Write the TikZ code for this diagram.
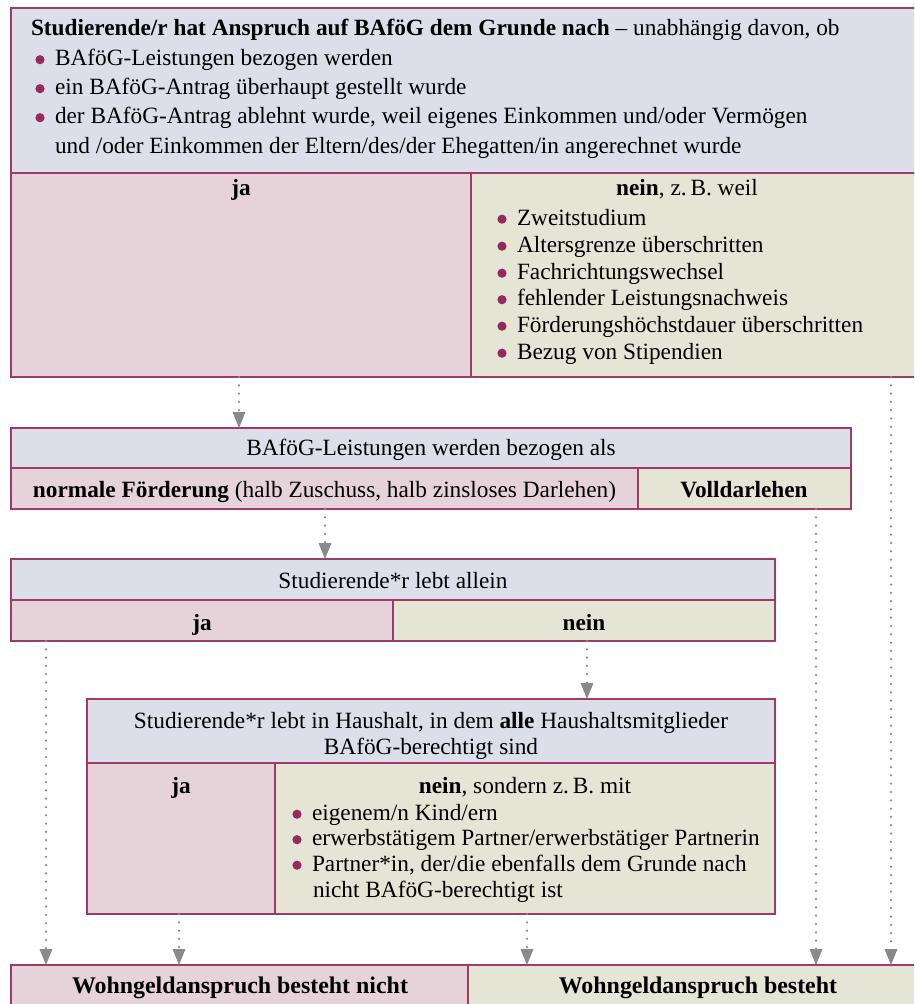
\documentclass[tikz,border=0pt]{standalone}
\usepackage{fontspec}
\setmainfont{Liberation Serif}
\usetikzlibrary{arrows.meta}
\definecolor{hdr}{HTML}{DCDFEA}
\definecolor{yes}{HTML}{E6D3DA}
\definecolor{nocol}{HTML}{E5E5D6}
\definecolor{brd}{HTML}{9E3A6A}
\definecolor{bul}{HTML}{962A5C}
\definecolor{arr}{HTML}{8A8A8A}
\newcommand{\bitem}[4]{%
  \fill[bul] (#1-15,#2-5.8) circle (4.6);
  \node[txt,anchor=base west] (#3) at (#1,#2) {#4};}
\tikzset{
  cell/.style={draw=brd,line width=1.6pt,anchor=north west,inner sep=0pt,outer sep=0pt},
  txt/.style={inner sep=0pt,outer sep=0pt,font=\fontsize{23.3}{29.3}\selectfont},
  big/.style={inner sep=0pt,outer sep=0pt,font=\fontsize{23.9}{29.3}\selectfont\bfseries},
  flow/.style={draw=arr,line width=2.5pt,line cap=round,dash pattern=on 0pt off 8.3pt,
    -{Triangle[width=13pt,length=16pt,fill=arr,color=arr,line width=0pt]}}
}
\begin{document}
\begin{tikzpicture}[x=1pt,y=-1pt]
\useasboundingbox (0,0) rectangle (914,1004);
\clip (0,0) rectangle (914,1004);
% boxes
\node[cell,fill=hdr,minimum width=909pt,minimum height=165pt] (th) at (11,8) {};
\node[cell,fill=yes,minimum width=460pt,minimum height=204pt] (tja) at (11,173) {};
\node[cell,fill=nocol,minimum width=449pt,minimum height=204pt] (tnein) at (471,173) {};
\node[cell,fill=hdr,minimum width=840pt,minimum height=40pt] (bh) at (11,428) {};
\node[cell,fill=yes,minimum width=627pt,minimum height=41pt] (bnorm) at (11,468) {};
\node[cell,fill=nocol,minimum width=213pt,minimum height=41pt] (bvoll) at (638,468) {};
\node[cell,fill=hdr,minimum width=764pt,minimum height=41pt] (ch) at (11,559) {};
\node[cell,fill=yes,minimum width=382pt,minimum height=41pt] (cja) at (11,600) {};
\node[cell,fill=nocol,minimum width=382pt,minimum height=41pt] (cnein) at (393,600) {};
\node[cell,fill=hdr,minimum width=688pt,minimum height=64pt] (dh) at (87,699) {};
\node[cell,fill=yes,minimum width=188pt,minimum height=151pt] (dja) at (87,763) {};
\node[cell,fill=nocol,minimum width=500pt,minimum height=151pt] (dnein) at (275,763) {};
\node[cell,fill=yes,minimum width=457pt,minimum height=60pt] (enicht) at (11,965) {};
\node[cell,fill=nocol,minimum width=462pt,minimum height=60pt] (eja) at (468,965) {};
% texts top
\node[txt,anchor=base west] (t1) at (31,35) {\textbf{Studierende/r hat Anspruch auf BAföG dem Grunde nach} – unabhängig davon, ob};
\bitem{55}{65.5}{t2}{BAföG-Leistungen bezogen werden}
\bitem{55}{94.5}{t3}{ein BAföG-Antrag überhaupt gestellt wurde}
\bitem{55}{123.5}{t4}{der BAföG-Antrag ablehnt wurde, weil eigenes Einkommen und/oder Vermögen}
\node[txt,anchor=base west] (t5) at (55,153) {und /oder Einkommen der Eltern/des/der Ehegatten/in angerechnet wurde};
\node[txt,anchor=base] (tjat) at (241,195) {\textbf{ja}};
\node[txt,anchor=base] (tneint) at (687,195) {\textbf{nein}, z.\,B. weil};
\bitem{517}{225}{n1}{Zweitstudium}
\bitem{517}{252}{n2}{Altersgrenze überschritten}
\bitem{517}{279}{n3}{Fachrichtungswechsel}
\bitem{517}{305.5}{n4}{fehlender Leistungsnachweis}
\bitem{517}{332}{n5}{Förderungshöchstdauer überschritten}
\bitem{517}{359}{n6}{Bezug von Stipendien}
% box 2
\node[txt,anchor=base] (bht) at (431,455) {BAföG-Leistungen werden bezogen als};
\node[txt,anchor=base] (bnormt) at (324.5,497) {\textbf{normale Förderung} (halb Zuschuss, halb zinsloses Darlehen)};
\node[txt,anchor=base] (bvollt) at (744,497) {\textbf{Volldarlehen}};
% box 3
\node[txt,anchor=base] (cht) at (393,588) {Studierende*r lebt allein};
\node[txt,anchor=base] (cjat) at (202,630) {\textbf{ja}};
\node[txt,anchor=base] (cneint) at (584,630) {\textbf{nein}};
% box 4
\node[txt,anchor=base] (dht1) at (431,728) {Studierende*r lebt in Haushalt, in dem \textbf{alle} Haushaltsmitglieder};
\node[txt,anchor=base] (dht2) at (431,754) {BAföG-berechtigt sind};
\node[txt,anchor=base] (djat) at (181,793) {\textbf{ja}};
\node[txt,anchor=base] (dneint) at (525,793) {\textbf{nein}, sondern z.\,B. mit};
\bitem{312}{820}{m1}{eigenem/n Kind/ern}
\bitem{312}{845.5}{m2}{erwerbstätigem Partner/erwerbstätiger Partnerin}
\bitem{312}{871}{m3}{Partner*in, der/die ebenfalls dem Grunde nach}
\node[txt,anchor=base west] (m4) at (313,897) {nicht BAföG-berechtigt ist};
% bottom
\node[big,anchor=base] (enichtt) at (240,993) {Wohngeldanspruch besteht nicht};
\node[big,anchor=base] (ejat) at (698,993) {Wohngeldanspruch besteht};
% connectors
\coordinate (s1) at (239,377);
\coordinate (s2) at (891,377);
\coordinate (s3) at (325,509);
\coordinate (s4) at (816,509);
\coordinate (s5) at (46,641);
\coordinate (s6) at (587,641);
\coordinate (s7) at (179,914);
\coordinate (s8) at (527,914);
\draw[flow] (s1) -- (s1 |- bh.north);
\draw[flow] (s2) -- (s2 |- eja.north);
\draw[flow] (s3) -- (s3 |- ch.north);
\draw[flow] (s4) -- (s4 |- eja.north);
\draw[flow] (s5) -- (s5 |- enicht.north);
\draw[flow] (s6) -- (s6 |- dh.north);
\draw[flow] (s7) -- (s7 |- enicht.north);
\draw[flow] (s8) -- (s8 |- eja.north);
\end{tikzpicture}
\end{document}
